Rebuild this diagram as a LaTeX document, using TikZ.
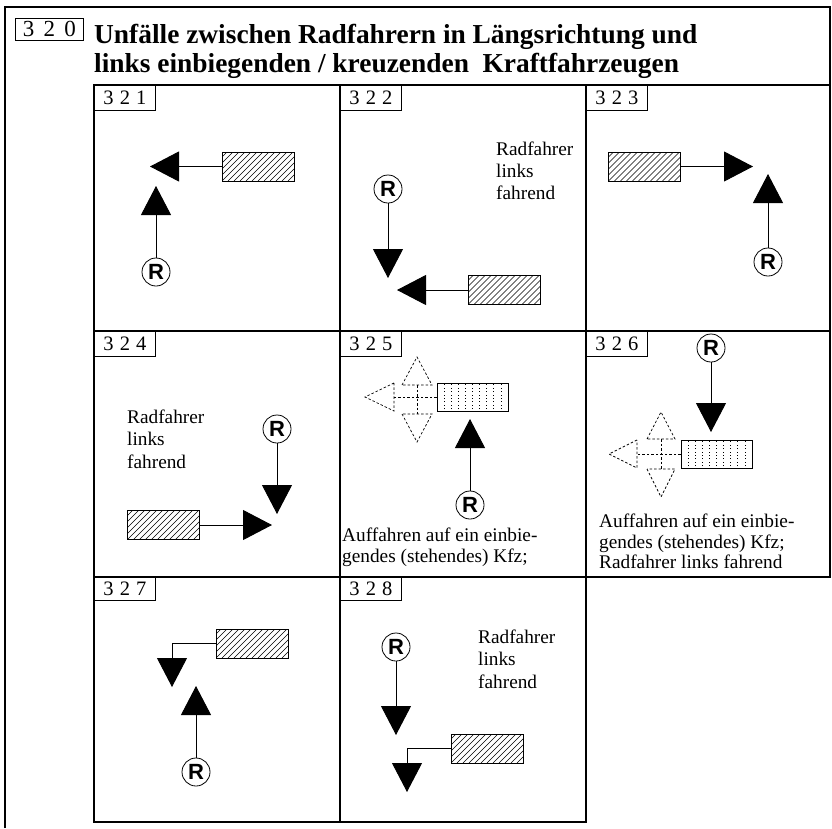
\documentclass[tikz,border=0pt]{standalone}
\usepackage{fontspec}
\setmainfont{Liberation Serif}
\newfontfamily\rfont{Liberation Sans}
\usetikzlibrary{arrows.meta}
\tikzset{
  frameline/.style={line width=1.3pt},
  lbl/.style={draw, line width=0.8pt, minimum width=61pt, minimum height=25pt, inner sep=0pt, anchor=north west,
    font={\fontsize{20.5}{20}\selectfont\spaceskip=0.3em\relax}},
  car/.style={draw, line width=0.8pt, minimum width=72pt, minimum height=29pt, inner sep=0pt,
    path picture={\foreach \k in {-5,...,12}{\draw[line width=0.5pt] ([xshift=\k*6pt]path picture bounding box.south west) -- ++(40pt,40pt);}}},
  dotcar/.style={draw, line width=0.8pt, minimum width=71pt, minimum height=28pt, inner sep=0pt,
    path picture={\foreach \k in {1,...,9}{\draw[line width=0.8pt, dash pattern=on 0.8pt off 2.6pt] ([xshift=\k*7.1pt, yshift=2pt]path picture bounding box.south west) -- ++(0,25pt);}}},
  rnode/.style={circle, draw, line width=0.8pt, minimum size=28pt, inner sep=0pt, fill=white,
    font={\rfont\bfseries\fontsize{22}{22}\selectfont}},
  arr/.style={line width=0.9pt, -{Triangle[length=29pt,width=30pt]}},
  dsh/.style={line width=0.7pt, dash pattern=on 2.5pt off 2pt},
  txt/.style={inner sep=0pt, anchor=base west, font={\fontsize{19.3}{22}\selectfont}},
  ttl/.style={inner sep=0pt, anchor=base west, font={\bfseries\fontsize{27.4}{29}\selectfont}},
}
\begin{document}
\begin{tikzpicture}[x=1pt,y=-1pt]
\useasboundingbox (0,0) rectangle (832,828);
\fill[white] (0,0) rectangle (832,828);
% outer frame
\draw[frameline] (5,828) -- (5,7) -- (830,7) -- (830,577);
% panel grid
\draw[frameline] (94,85) rectangle (830,577);
\draw[frameline] (94,331) -- (830,331);
\draw[frameline] (340,85) -- (340,822);
\draw[frameline] (586,85) -- (586,822);
\draw[frameline] (94,577) rectangle (586,822);
% title
\node[lbl, minimum width=68pt, minimum height=22pt, font={\fontsize{23}{22}\selectfont\spaceskip=0.4em\relax}] (l320) at (15,18) {3 2 0};
\node[ttl] (t1) at (94,43) {Unfälle zwischen Radfahrern in Längsrichtung und};
\node[ttl] (t2) at (94,72) {links einbiegenden / kreuzenden\ \ Kraftfahrzeugen};
% labels
\node[lbl] (l321) at (94,85) {3 2 1};
\node[lbl] (l322) at (340,85) {3 2 2};
\node[lbl] (l323) at (586,85) {3 2 3};
\node[lbl] (l324) at (94,331) {3 2 4};
\node[lbl] (l325) at (340,331) {3 2 5};
\node[lbl] (l326) at (586,331) {3 2 6};
\node[lbl, minimum height=23pt] (l327) at (94,577) {3 2 7};
\node[lbl, minimum height=23pt] (l328) at (340,577) {3 2 8};
% 321
\node[car] (c1) at (258,166.5) {};
\coordinate (t1a) at (150,166.5);
\draw[arr] (c1.west) -- (t1a);
\node[rnode] (r1) at (156,272) {R};
\coordinate (t1b) at (156,186);
\draw[arr] (r1) -- (t1b);
% 322
\node[txt] (n2a) at (496,155) {Radfahrer};
\node[txt] (n2b) at (496,177) {links};
\node[txt] (n2c) at (496,199) {fahrend};
\node[rnode] (r2) at (388,189) {R};
\coordinate (t2a) at (388,278);
\draw[arr] (r2) -- (t2a);
\node[car] (c2) at (504,290) {};
\coordinate (t2b) at (397,290);
\draw[arr] (c2.west) -- (t2b);
% 323
\node[car] (c3) at (644.5,166.5) {};
\coordinate (t3a) at (753,166.5);
\draw[arr] (c3.east) -- (t3a);
\node[rnode] (r3) at (768,262) {R};
\coordinate (t3b) at (768,174);
\draw[arr] (r3) -- (t3b);
% 324
\node[txt] (n4a) at (127,423) {Radfahrer};
\node[txt] (n4b) at (127,445.5) {links};
\node[txt] (n4c) at (127,468) {fahrend};
\node[rnode] (r4) at (277,429) {R};
\coordinate (t4a) at (277,514);
\draw[arr] (r4) -- (t4a);
\node[car] (c4) at (163.5,525) {};
\coordinate (t4b) at (272,525);
\draw[arr] (c4.east) -- (t4b);
% 325
\node[dotcar] (c5) at (472.5,397) {};
\draw[dsh] (c5.west) -- (394,397);
\draw[dsh] (394,383) -- (365,397) -- (394,411) -- cycle;
\draw[dsh] (417,385) -- (417,414);
\draw[dsh] (402,385) -- (417,357) -- (432,385) -- cycle;
\draw[dsh] (402,414) -- (417,442) -- (432,414) -- cycle;
\node[rnode] (r5) at (470,505) {R};
\coordinate (t5) at (470,419);
\draw[arr] (r5) -- (t5);
\node[txt] (n5a) at (342,541) {Auffahren auf ein einbie-};
\node[txt] (n5b) at (342,562) {gendes (stehendes) Kfz;};
% 326
\node[rnode] (r6) at (711,348) {R};
\coordinate (t6) at (711,432);
\draw[arr] (r6) -- (t6);
\node[dotcar] (c6) at (716.5,454) {};
\draw[dsh] (c6.west) -- (637,454);
\draw[dsh] (637,440) -- (609,454) -- (637,468) -- cycle;
\draw[dsh] (661,439) -- (661,469);
\draw[dsh] (647,439) -- (661,412) -- (675,439) -- cycle;
\draw[dsh] (647,469) -- (661,497) -- (675,469) -- cycle;
\node[txt] (n6a) at (599,527) {Auffahren auf ein einbie-};
\node[txt] (n6b) at (599,548) {gendes (stehendes) Kfz;};
\node[txt] (n6c) at (599,568) {Radfahrer links fahrend};
% 327
\node[car] (c7) at (252,643.5) {};
\coordinate (t7a) at (172,687);
\draw[arr] (c7.west) -| (t7a);
\node[rnode] (r7) at (196,772) {R};
\coordinate (t7b) at (196,686);
\draw[arr] (r7) -- (t7b);
% 328
\node[txt] (n8a) at (478,643) {Radfahrer};
\node[txt] (n8b) at (478,665) {links};
\node[txt] (n8c) at (478,688) {fahrend};
\node[rnode] (r8) at (396,647) {R};
\coordinate (t8a) at (396,735);
\draw[arr] (r8) -- (t8a);
\node[car] (c8) at (487,748.5) {};
\coordinate (t8b) at (407,792);
\draw[arr] (c8.west) -| (t8b);
\end{tikzpicture}
\end{document}
